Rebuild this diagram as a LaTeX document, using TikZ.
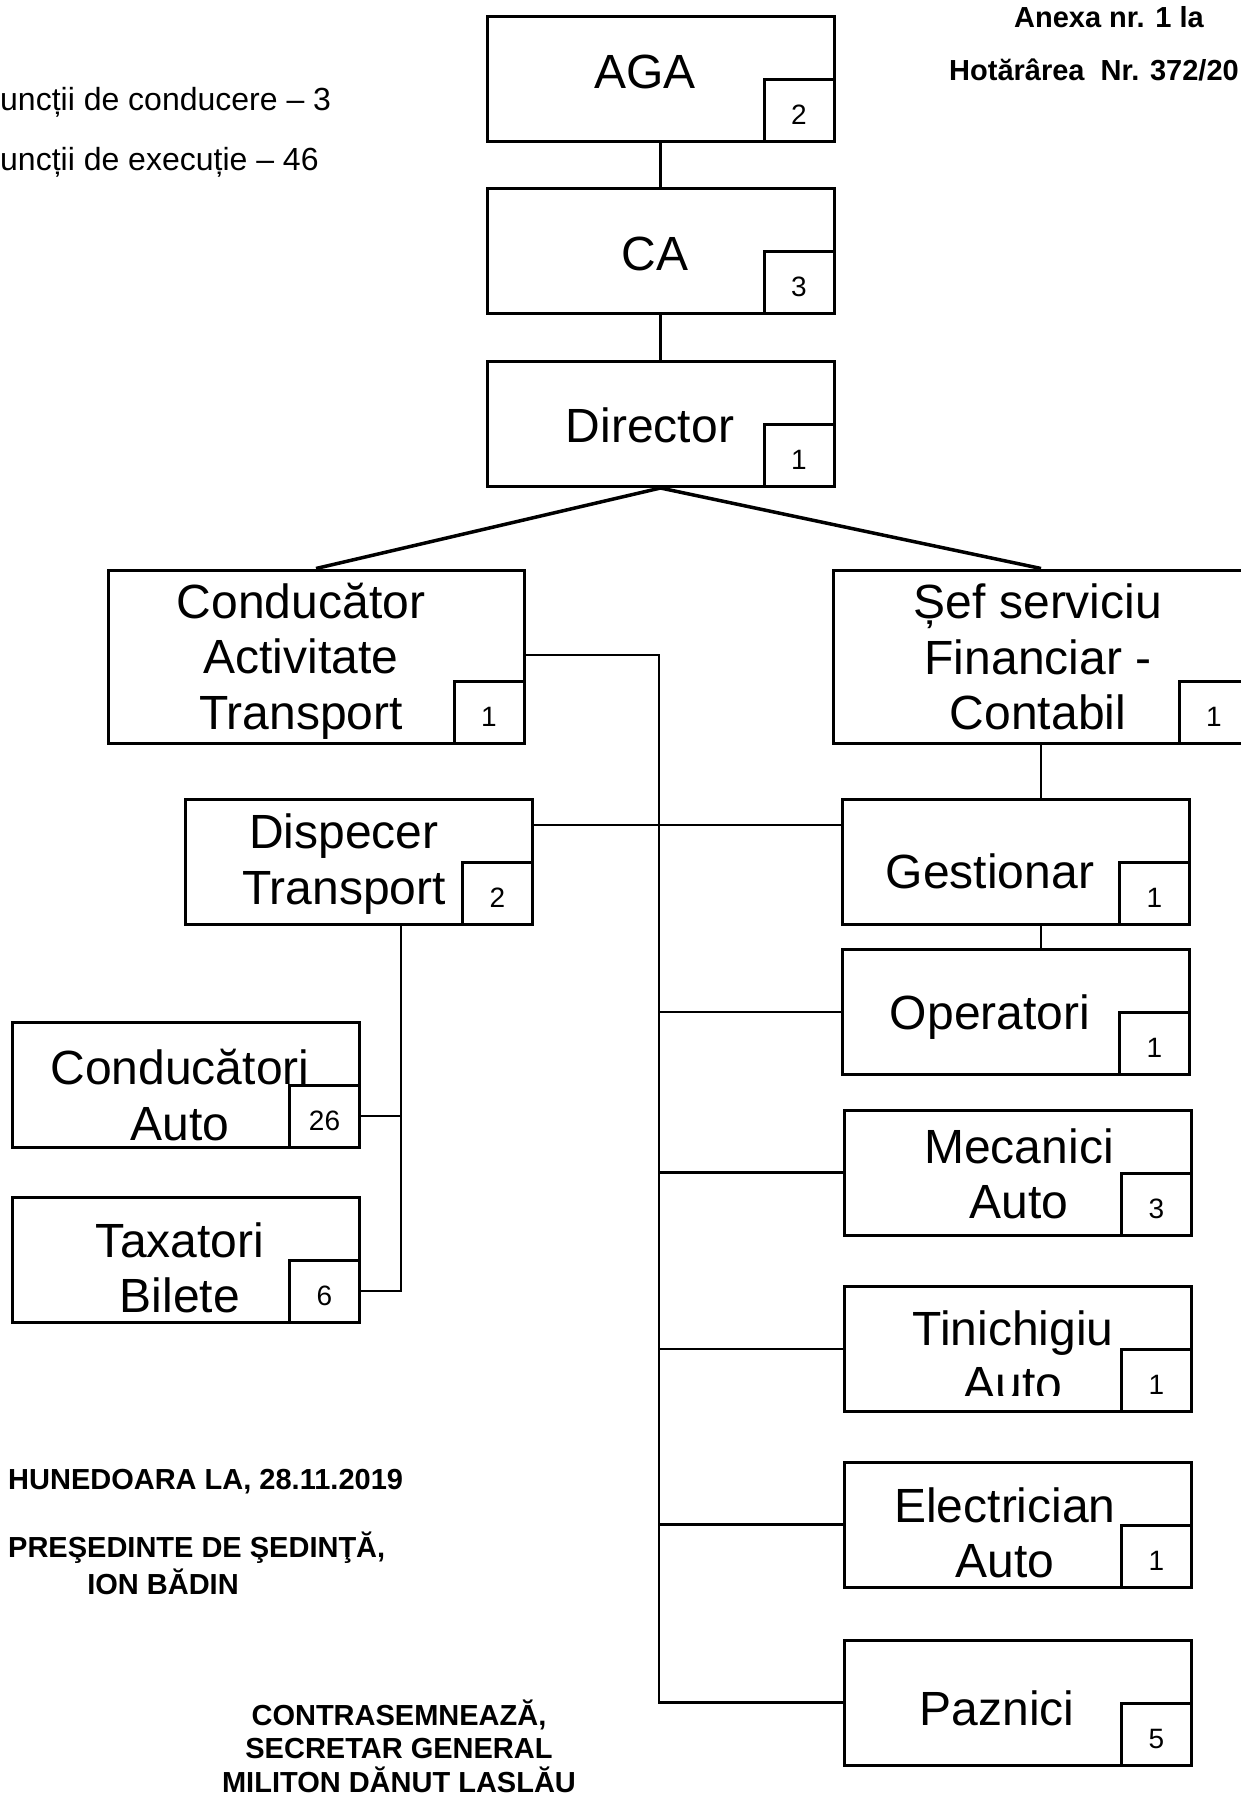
\documentclass[tikz,border=0pt]{standalone}
\usepackage{fontspec}
\setmainfont{Liberation Sans}

\tikzset{
  post/.style={draw, line width=3pt, inner sep=0pt, minimum width=347pt, minimum height=125pt},
  widepost/.style={post, minimum width=416pt, minimum height=173pt},
  headcount/.style={draw, line width=3pt, inner sep=0pt, minimum width=70pt, minimum height=62pt,
    anchor=south east, font=\fontsize{28}{30}\selectfont, text height=28pt, text depth=0pt},
  posttext/.style={align=center, inner sep=0pt, font=\fontsize{48}{55.5}\selectfont},
  notetext/.style={inner sep=0pt, anchor=west, font=\fontsize{32}{36}\selectfont},
  signtext/.style={inner sep=0pt, align=center, font=\bfseries\fontsize{29}{33.5}\selectfont},
  wire/.style={line width=2.5pt},
}

\begin{document}
\begin{tikzpicture}[x=1pt,y=-1pt]
\useasboundingbox (0,0) rectangle (1241,1796);

% top of the chart
\node[post] (aga) at (660.5,78.5) {};
\node[headcount] (agan) at (aga.south east) {2};
\node[posttext] (agat) at (645,72) {AGA};

\node[post] (ca) at (660.5,251) {};
\node[headcount] (can) at (ca.south east) {3};
\node[posttext] (cat) at (655,254) {CA};

\node[post] (dir) at (660.5,424) {};
\node[headcount] (dirn) at (dir.south east) {1};
\node[posttext] (dirt) at (650,425) {Director};

% the two heads
\node[widepost] (cond) at (316,656.5) {};
\node[headcount] (condn) at (cond.south east) {1};
\node[posttext] (condt) at (301,661) {Conducător\\Activitate\\Transport};

\node[widepost] (sef) at (1041,656.5) {};
\node[headcount] (sefn) at (sef.south east) {1};
\node[posttext] (seft) at (1038,657) {Șef serviciu\\Financiar -\\Contabil};

% left side
\node[post] (disp) at (359,862) {};
\node[headcount] (dispn) at (disp.south east) {2};
\node[posttext] (dispt) at (344,864) {Dispecer\\Transport};

\node[post] (auto) at (186,1084.5) {};
\node[headcount] (auton) at (auto.south east) {26};
\node[posttext] (autot) at (180,1095) {Conducători\\Auto};

\node[post] (tax) at (186,1259.5) {};
\node[headcount] (taxn) at (tax.south east) {6};
\node[posttext] (taxt) at (180,1268) {Taxatori\\Bilete};

% right side
\node[post] (gest) at (1016,862) {};
\node[headcount] (gestn) at (gest.south east) {1};
\node[posttext] (gestt) at (990,871) {Gestionar};

\node[post] (oper) at (1016,1012) {};
\node[headcount] (opern) at (oper.south east) {1};
\node[posttext] (opert) at (990,1017) {Operatori};

\node[post] (mec) at (1018,1172.5) {};
\node[headcount] (mecn) at (mec.south east) {3};
\node[posttext] (mect) at (1019,1174) {Mecanici\\Auto};

\node[post] (tin) at (1018,1349) {};
\node[headcount] (tinn) at (tin.south east) {1};
\begin{scope}
\clip (tin.north west) rectangle (1121,1395);
\node[posttext] (tint) at (1013,1356) {Tinichigiu\\Auto};
\end{scope}

\node[post] (elec) at (1018,1524.5) {};
\node[headcount] (elecn) at (elec.south east) {1};
\node[posttext] (elect) at (1005,1533) {Electrician\\Auto};

\node[post] (paz) at (1018,1702.5) {};
\node[headcount] (pazn) at (paz.south east) {5};
\node[posttext] (pazt) at (997,1708) {Paznici};

% connectors
\draw[wire] (aga.south) -- (ca.north);
\draw[wire] (ca.south) -- (dir.north);
\draw[line width=3.5pt] (cond.north) -- (dir.south) -- (sef.north);

\coordinate (trunk) at (659,655);
\draw[wire] (cond.east |- trunk) -- (trunk) -- (trunk |- paz.west) -- (paz.west);
\foreach \p in {oper,mec,tin,elec}
  \draw[wire] (trunk |- \p.west) -- (\p.west);

\draw[wire] ([yshift=-27pt]disp.north east) -- ([yshift=-27pt]gest.north west);
\draw[wire] (sef.south) -- (sef.south |- gest.north);
\draw[wire] (sef.south |- gest.south) -- (sef.south |- oper.north);

\coordinate (dbus) at ([xshift=42pt]disp.south);
\draw[wire] (dbus) -- (dbus |- taxn.east) -- (taxn.east);
\draw[wire] (dbus |- auton.east) -- (auton.east);

% texts round the chart
\node[notetext] (lead) at (0,102) {uncții de conducere – 3};
\node[notetext] (staff) at (0,162) {uncții de execuție – 46};

\node[signtext] (anexa) at (1109,17) {Anexa nr. 1 la};
\node[signtext, anchor=west] (hot) at (949,70) {Hotărârea~ Nr. 372/20};

\node[signtext, anchor=west] (place) at (8,1482) {HUNEDOARA LA, 28.11.2019};
\node[signtext, anchor=west] (pres) at (8,1548) {PREŞEDINTE DE ŞEDINŢĂ,};
\node[signtext] (presname) at (163,1582) {ION BĂDIN};
\node[signtext] (secr) at (399,1746) {CONTRASEMNEAZĂ,\\SECRETAR GENERAL\\MILITON DĂNUT LASLĂU};
\end{tikzpicture}
\end{document}
